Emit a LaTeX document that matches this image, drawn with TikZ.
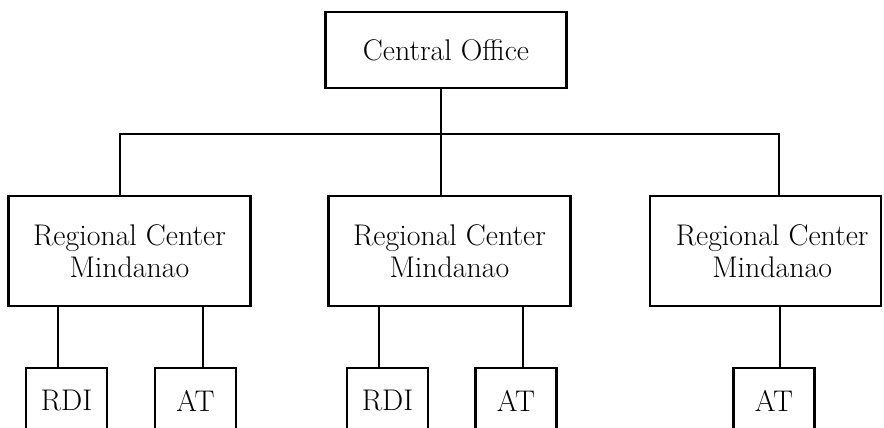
\documentclass[tikz,border=0pt]{standalone}
\usetikzlibrary{positioning}

\begin{document}
\begin{tikzpicture}[x=0.03cm, y=-0.03cm,
		every node/.style={draw, line width=2.4pt, align=center, inner sep=0pt,
			font=\fontsize{25.5}{27.5}\selectfont},
		office/.style={minimum width=7.23cm, minimum height=2.28cm},
		regional/.style={minimum width=7.26cm, minimum height=3.3cm},
		unit/.style={minimum width=2.43cm, minimum height=1.98cm},
		link/.style={line width=2.4pt}]
	\useasboundingbox (0,0) rectangle (884,428);
	\clip (0,0) rectangle (884,428);

	% top of the chart
	\node[office] (central) at (446,50) {Central Office};

	% regional centers
	\node[regional] (reg1) at (129.5,251) {Regional Center\\Mindanao};
	\node[regional] (reg2) at (449.5,251) {Regional Center\\Mindanao};
	\node[regional, minimum width=6.93cm] (reg3) at (765.5,251) {\hspace*{0.4cm}Regional Center\\\hspace*{0.4cm}Mindanao};

	% units below
	\node[unit] (rdi1) at (66.5,401) {RDI};
	\node[unit] (at1) at (195.5,401) {AT};
	\node[unit] (rdi2) at (387.5,401) {RDI};
	\node[unit] (at2) at (516,401) {AT};
	\node[unit] (at3) at (774,401) {AT};

	% bus line
	\coordinate (busL) at (120,134);
	\coordinate (busM) at (441,134);
	\coordinate (busR) at (779,134);
	\draw[link] (reg1.north -| busL) -- (busL) -- (busR) -- (reg3.north -| busR);
	\draw[link] (central.south -| busM) -- (reg2.north -| busM);

	% links to units
	\draw[link] ([xshift=-0.255cm]rdi1.north) coordinate (k1) -- (k1 |- reg1.south);
	\draw[link] ([xshift=0.225cm]at1.north) coordinate (k2) -- (k2 |- reg1.south);
	\draw[link] ([xshift=-0.255cm]rdi2.north) coordinate (k3) -- (k3 |- reg2.south);
	\draw[link] ([xshift=0.21cm]at2.north) coordinate (k4) -- (k4 |- reg2.south);
	\draw[link] ([xshift=0.18cm]at3.north) coordinate (k5) -- (k5 |- reg3.south);
\end{tikzpicture}
\end{document}
